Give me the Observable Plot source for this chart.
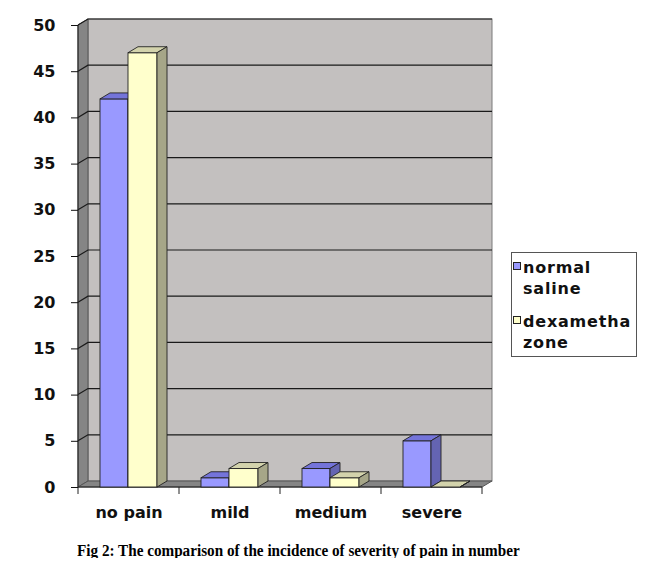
<!DOCTYPE html>
<html>
<head>
<meta charset="utf-8">
<script src="https://cdn.jsdelivr.net/npm/d3@7"></script>
<script src="https://cdn.jsdelivr.net/npm/@observablehq/plot@0.6"></script>
<style>
  body { margin: 0; background: white; }
  #caption { font-family: "Liberation Serif", "Times New Roman", serif; font-weight: bold; font-size: 15.2px; padding-left: 77px; margin-top: 10px; color: #000; transform: scaleY(1.12); transform-origin: left top; }
</style>
</head>
<body>
<div id="chart"></div>
<div id="caption">Fig 2: The comparison of the incidence of severity of pain in number</div>
<script>
const categories = ["no pain", "mild", "medium", "severe"];
const normalSaline = [42, 1, 2, 5];
const dexamethazone = [47, 2, 1, 0];
const legendLines = [["normal", "saline"], ["dexametha", "zone"]];
const yTicks = [0, 5, 10, 15, 20, 25, 30, 35, 40, 45, 50];

const DX = 10, DY = 6;
const series = [
  {values: normalSaline, insetLeft: 22, insetRight: 51, front: "#9999FF", top: "#7474DA", side: "#6464B2"},
  {values: dexamethazone, insetLeft: 50, insetRight: 22, front: "#FFFFCC", top: "#D3D3AC", side: "#A6A688"}
];
const rows = s => categories.map((c, i) => ({cat: c, value: s.values[i]}));

function bandOf(scales) {
  const x = scales.x;
  let bw = typeof x.bandwidth === "function" ? x.bandwidth() : x.bandwidth;
  if (!(bw > 0)) bw = x(categories[1]) - x(categories[0]);
  return bw;
}

function walls(index, scales, values, dims) {
  const g = d3.create("svg:g");
  const y = scales.y, x = scales.x;
  const bw = bandOf(scales);
  const x0 = dims.marginLeft, x1 = dims.width - dims.marginRight;
  const y0 = y(0), yTop = y(50);
  g.append("rect").attr("x", x0 + DX).attr("y", yTop - DY).attr("width", x1 - x0).attr("height", y0 - yTop)
    .attr("fill", "#C3C0BF").attr("stroke", "#7a7a7a");
  g.append("path").attr("d", `M${x0},${yTop}L${x0 + DX},${yTop - DY}L${x0 + DX},${y0 - DY}L${x0},${y0}Z`)
    .attr("fill", "#858585").attr("stroke", "#555");
  g.append("path").attr("d", `M${x0},${y0}L${x0 + DX},${y0 - DY}L${x1 + DX},${y0 - DY}L${x1},${y0}Z`)
    .attr("fill", "#858585").attr("stroke", "#555");
  for (const t of yTicks) {
    if (t === 0) continue;
    const yy = y(t);
    g.append("path").attr("d", `M${x0},${yy}L${x0 + DX},${yy - DY}L${x1 + DX},${yy - DY}`)
      .attr("fill", "none").attr("stroke", "#1a1a1a").attr("stroke-width", 1.2);
  }
  g.append("line").attr("x1", x0).attr("x2", x0).attr("y1", yTop).attr("y2", y0).attr("stroke", "#222");
  g.append("line").attr("x1", x0).attr("x2", x1).attr("y1", y0).attr("y2", y0).attr("stroke", "#222");
  categories.forEach((c) => {
    const xx = x(c);
    g.append("line").attr("x1", xx).attr("x2", xx).attr("y1", y0).attr("y2", y0 + 7).attr("stroke", "#222");
  });
  const xe = x(categories[categories.length - 1]) + bw;
  g.append("line").attr("x1", xe).attr("x2", xe).attr("y1", y0).attr("y2", y0 + 7).attr("stroke", "#222");
  return g.node();
}

function faces(s) {
  return (index, scales) => {
    const g = d3.create("svg:g");
    const bw = bandOf(scales);
    categories.forEach((c, i) => {
      const v = s.values[i];
      const xa = scales.x(c) + s.insetLeft, xb = scales.x(c) + bw - s.insetRight;
      const yt = scales.y(v), yb = scales.y(0);
      g.append("path").attr("d", `M${xa},${yt}L${xa + DX},${yt - DY}L${xb + DX},${yt - DY}L${xb},${yt}Z`)
        .attr("fill", s.top).attr("stroke", "#222").attr("stroke-width", 0.9);
      g.append("path").attr("d", `M${xb},${yt}L${xb + DX},${yt - DY}L${xb + DX},${yb - DY}L${xb},${yb}Z`)
        .attr("fill", s.side).attr("stroke", "#222").attr("stroke-width", 0.9);
    });
    return g.node();
  };
}

function legend(index, scales, values, dims) {
  const g = d3.create("svg:g");
  g.append("rect").attr("x", 511.5).attr("y", 252.5).attr("width", 125).attr("height", 104)
    .attr("fill", "white").attr("stroke", "#555");
  const tops = [262, 316];
  legendLines.forEach((lines, k) => {
    g.append("rect").attr("x", 513.5).attr("y", tops[k] + 0.5).attr("width", 7).attr("height", 7)
      .attr("fill", series[k].front).attr("stroke", "#222");
    lines.forEach((t, j) => {
      g.append("text").attr("x", 523).attr("y", tops[k] + 11 + j * 21).text(t)
        .attr("text-anchor", "start")
        .attr("font-family", "DejaVu Sans").attr("font-weight", "bold").attr("font-size", "16px")
        .attr("letter-spacing", "0.8px").attr("fill", "#111");
    });
  });
  return g.node();
}

const marks = [walls];
for (const s of series) {
  marks.push(Plot.barY(rows(s), {x: "cat", y: "value", fill: s.front, stroke: "#222", strokeWidth: 0.9,
    insetLeft: s.insetLeft, insetRight: s.insetRight}));
  marks.push(faces(s));
}
marks.push(Plot.axisY({ticks: yTicks, tickSize: 7, tickPadding: 16, label: null, tickFormat: d => String(d)}));
marks.push(Plot.axisX({tickSize: 0, tickPadding: 19, label: null}));
marks.push(legend);

const chart = Plot.plot({
  width: 670,
  height: 530,
  marginTop: 25,
  marginBottom: 43,
  marginLeft: 78,
  marginRight: 188,
  style: {fontFamily: "DejaVu Sans", fontSize: "16px", fontWeight: "bold", color: "#111", background: "white", overflow: "visible"},
  x: {domain: categories, padding: 0, label: null},
  y: {domain: [0, 50], label: null},
  marks
});
document.getElementById("chart").appendChild(chart);
</script>
</body>
</html>
